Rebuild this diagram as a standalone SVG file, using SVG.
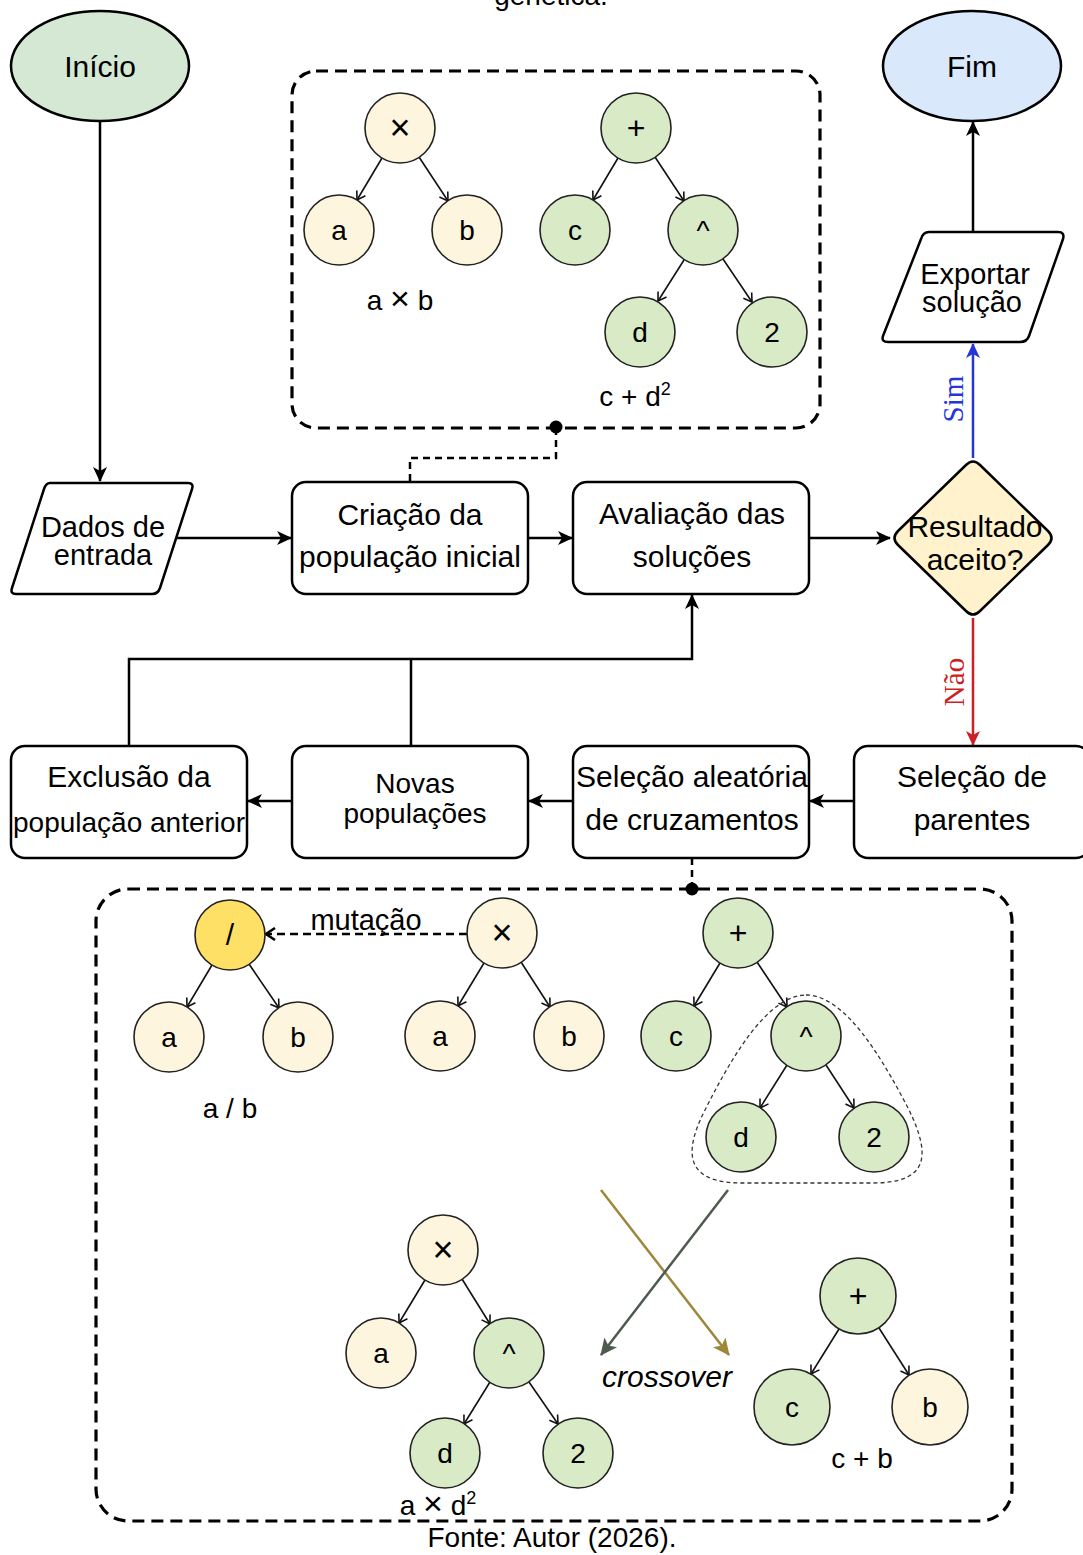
<svg xmlns="http://www.w3.org/2000/svg" width="1083" height="1555" viewBox="0 0 1083 1555">
<defs>
<style>
text{font-family:"Liberation Sans",Arial,sans-serif;fill:#000}
.t30{font-size:30px;text-anchor:middle}
.t29{font-size:29px;text-anchor:middle}
.t28{font-size:28px;text-anchor:middle}
.node{stroke:#000;stroke-width:2.5}
.box{fill:#fff;stroke:#000;stroke-width:2.5}
.cy{fill:#fdf5de;stroke:#222;stroke-width:1.6}
.cg{fill:#d9eac7;stroke:#222;stroke-width:1.6}
.cgold{fill:#ffe066;stroke:#222;stroke-width:1.6}
.lbl{font-size:28px;text-anchor:middle}
.x{font-size:36px;text-anchor:middle}
.edge{stroke:#000;stroke-width:2.5;fill:none}
.tedge{stroke:#111;stroke-width:1.6;fill:none;marker-end:url(#open)}
.dash{stroke:#000;stroke-width:3.2;fill:none;stroke-dasharray:12 7}
</style>
<marker id="blk" markerUnits="userSpaceOnUse" markerWidth="16" markerHeight="14" refX="14" refY="7" orient="auto">
<path d="M0,0 L15,7 L0,14 L4,7 Z" fill="#000"/>
</marker>
<marker id="blkBlue" markerUnits="userSpaceOnUse" markerWidth="16" markerHeight="14" refX="14" refY="7" orient="auto">
<path d="M0,0 L15,7 L0,14 L4,7 Z" fill="#2536d8"/>
</marker>
<marker id="blkRed" markerUnits="userSpaceOnUse" markerWidth="16" markerHeight="14" refX="14" refY="7" orient="auto">
<path d="M0,0 L15,7 L0,14 L4,7 Z" fill="#cc1f24"/>
</marker>
<marker id="open" markerUnits="userSpaceOnUse" markerWidth="12" markerHeight="12" refX="10" refY="6" orient="auto">
<path d="M2,1 L10,6 L2,11" fill="none" stroke="#111" stroke-width="1.6"/>
</marker>
<marker id="openThick" markerUnits="userSpaceOnUse" markerWidth="14" markerHeight="14" refX="12" refY="7" orient="auto">
<path d="M3,1 L12,7 L3,13" fill="none" stroke="#000" stroke-width="2.5"/>
</marker>
<marker id="olive" markerUnits="userSpaceOnUse" markerWidth="18" markerHeight="16" refX="16" refY="8" orient="auto">
<path d="M0,0 L17,8 L0,16 L4,8 Z" fill="#9c873a"/>
</marker>
<marker id="grey" markerUnits="userSpaceOnUse" markerWidth="18" markerHeight="16" refX="16" refY="8" orient="auto">
<path d="M0,0 L17,8 L0,16 L4,8 Z" fill="#4f5a4e"/>
</marker>
</defs>

<text x="551" y="5" class="t28">genética.</text>

<!-- containers -->
<g id="box-top"><rect x="292" y="71" width="528" height="357" rx="24" class="dash"/></g>
<g id="box-bottom"><rect x="96" y="889" width="916" height="632" rx="32" class="dash"/></g>

<!-- connectors -->
<g id="connectors">
<line x1="100" y1="121" x2="100" y2="481" class="edge" marker-end="url(#blk)"/>
<line x1="175" y1="538" x2="291" y2="538" class="edge" marker-end="url(#blk)"/>
<line x1="528" y1="538" x2="572" y2="538" class="edge" marker-end="url(#blk)"/>
<line x1="809" y1="538" x2="890" y2="538" class="edge" marker-end="url(#blk)"/>
<line x1="973" y1="458" x2="973" y2="344" stroke="#2536d8" stroke-width="2.5" marker-end="url(#blkBlue)"/>
<line x1="973" y1="618" x2="973" y2="745" stroke="#cc1f24" stroke-width="2.5" marker-end="url(#blkRed)"/>
<line x1="973" y1="232" x2="973" y2="122" class="edge" marker-end="url(#blk)"/>
<line x1="854" y1="801" x2="810" y2="801" class="edge" marker-end="url(#blk)"/>
<line x1="573" y1="801" x2="529" y2="801" class="edge" marker-end="url(#blk)"/>
<line x1="292" y1="801" x2="248" y2="801" class="edge" marker-end="url(#blk)"/>
<polyline points="129,746 129,659 692,659 692,595" class="edge" marker-end="url(#blk)"/>
<line x1="411" y1="746" x2="411" y2="659" class="edge"/>
<polyline points="556,428 556,458 410,458 410,482" fill="none" stroke="#000" stroke-width="2.5" stroke-dasharray="7 5"/>
<circle cx="556" cy="427" r="6.5" fill="#000"/>
<line x1="692" y1="858" x2="692" y2="889" stroke="#000" stroke-width="2.5" stroke-dasharray="7 5"/>
<circle cx="692" cy="889" r="6.5" fill="#000"/>
<text x="963" y="399" font-size="29" text-anchor="middle" transform="rotate(-90 963 399)" style="font-family:'Liberation Serif',serif;fill:#2536d8">Sim</text>
<text x="964" y="682" font-size="29" text-anchor="middle" transform="rotate(-90 964 682)" style="font-family:'Liberation Serif',serif;fill:#cc1f24">Não</text>
<!-- tree edges top -->
<line x1="382" y1="158" x2="357" y2="200" class="tedge"/>
<line x1="419" y1="157" x2="448" y2="201" class="tedge"/>
<line x1="618" y1="158" x2="593" y2="200" class="tedge"/>
<line x1="655" y1="157" x2="684" y2="201" class="tedge"/>
<line x1="684" y1="260" x2="658" y2="301" class="tedge"/>
<line x1="723" y1="259" x2="752" y2="302" class="tedge"/>
<!-- tree edges bottom -->
<line x1="212" y1="965" x2="187" y2="1007" class="tedge"/>
<line x1="249" y1="964" x2="279" y2="1008" class="tedge"/>
<line x1="484" y1="963" x2="458" y2="1006" class="tedge"/>
<line x1="521" y1="962" x2="550" y2="1007" class="tedge"/>
<line x1="720" y1="963" x2="694" y2="1006" class="tedge"/>
<line x1="757" y1="962" x2="787" y2="1007" class="tedge"/>
<line x1="787" y1="1065" x2="760" y2="1108" class="tedge"/>
<line x1="826" y1="1065" x2="854" y2="1108" class="tedge"/>
<line x1="425" y1="1280" x2="399" y2="1323" class="tedge"/>
<line x1="462" y1="1279" x2="490" y2="1324" class="tedge"/>
<line x1="490" y1="1382" x2="464" y2="1424" class="tedge"/>
<line x1="529" y1="1382" x2="558" y2="1424" class="tedge"/>
<line x1="839" y1="1329" x2="811" y2="1374" class="tedge"/>
<line x1="879" y1="1328" x2="909" y2="1375" class="tedge"/>
<!-- mutation -->
<line x1="467" y1="934" x2="266" y2="934" stroke="#000" stroke-width="2.5" stroke-dasharray="8 5" marker-end="url(#openThick)"/>
<text x="366" y="930" class="t29">mutação</text>
<!-- subtree outline -->
<path d="M806,995 C845,995 882,1058 908,1108 C934,1160 925,1183 872,1183 L742,1183 C692,1183 680,1160 704,1112 C730,1060 767,995 806,995 Z" fill="none" stroke="#333" stroke-width="1.3" stroke-dasharray="4 3"/>
<!-- crossover -->
<line x1="601" y1="1190" x2="729" y2="1355" stroke="#9c873a" stroke-width="2.5" marker-end="url(#olive)"/>
<line x1="728" y1="1190" x2="601" y2="1355" stroke="#4f5a4e" stroke-width="2.5" marker-end="url(#grey)"/>
<text x="667" y="1387" class="t30" style="font-style:italic">crossover</text>
</g>

<!-- main nodes -->
<g id="inicio"><ellipse cx="100" cy="66" rx="89" ry="55" fill="#d5e8d4" class="node"/><text x="100" y="77" class="t30">Início</text></g>
<g id="fim"><ellipse cx="972" cy="66" rx="89" ry="55" fill="#dae8fc" class="node"/><text x="972" y="77" class="t30">Fim</text></g>
<g id="dados"><path d="M50,483 L188,483 Q194,483 192,489 L160,588 Q158,594 152,594 L16,594 Q10,594 12,588 L44,489 Q46,483 50,483 Z" class="box"/><text x="103" y="537" class="t29">Dados de</text><text x="103" y="565" class="t29">entrada</text></g>
<g id="criacao"><rect x="292" y="482" width="236" height="112" rx="14" class="box"/><text x="410" y="525" class="t30">Criação da</text><text x="410" y="567" class="t30">população inicial</text></g>
<g id="avaliacao"><rect x="573" y="482" width="236" height="112" rx="14" class="box"/><text x="692" y="524" class="t30">Avaliação das</text><text x="692" y="567" class="t30">soluções</text></g>
<g id="resultado"><path d="M966,465 Q973,458 980,465 L1048,531 Q1055,538 1048,545 L980,611 Q973,618 966,611 L898,545 Q891,538 898,531 Z" fill="#fff2cc" class="node"/><text x="975" y="537" class="t30">Resultado</text><text x="975" y="570" class="t30">aceito?</text></g>
<g id="exportar"><path d="M929,232 L1058,232 Q1065,232 1063,239 L1029,336 Q1027,342 1020,342 L888,342 Q881,342 883,336 L921,239 Q923,232 929,232 Z" class="box"/><text x="975" y="284" class="t29">Exportar</text><text x="972" y="312" class="t29">solução</text></g>
<g id="selecao-parentes"><rect x="854" y="746" width="236" height="112" rx="14" class="box"/><text x="972" y="787" class="t30">Seleção de</text><text x="972" y="830" class="t30">parentes</text></g>
<g id="selecao-aleatoria"><rect x="573" y="746" width="236" height="112" rx="14" class="box"/><text x="692" y="787" class="t30">Seleção aleatória</text><text x="692" y="830" class="t30">de cruzamentos</text></g>
<g id="novas"><rect x="292" y="746" width="236" height="112" rx="14" class="box"/><text x="415" y="793" class="t28">Novas</text><text x="415" y="823" class="t28">populações</text></g>
<g id="exclusao"><rect x="11" y="746" width="236" height="112" rx="14" class="box"/><text x="129" y="787" class="t30">Exclusão da</text><text x="129" y="832" class="t28">população anterior</text></g>

<!-- top trees -->
<g id="t1-times"><circle cx="400" cy="128" r="35" class="cy"/><text x="400" y="140" class="x">×</text></g>
<g id="t1-a"><circle cx="339" cy="230" r="35" class="cy"/><text x="339" y="240" class="lbl">a</text></g>
<g id="t1-b"><circle cx="467" cy="230" r="35" class="cy"/><text x="467" y="240" class="lbl">b</text></g>
<text x="400" y="310" class="lbl">a <tspan font-size="34">×</tspan> b</text>
<g id="t2-plus"><circle cx="636" cy="128" r="35" class="cg"/><text x="636" y="139" class="lbl" style="font-size:32px">+</text></g>
<g id="t2-c"><circle cx="575" cy="230" r="35" class="cg"/><text x="575" y="240" class="lbl">c</text></g>
<g id="t2-pow"><circle cx="703" cy="230" r="35" class="cg"/><text x="703" y="240" class="lbl">^</text></g>
<g id="t2-d"><circle cx="640" cy="332" r="35" class="cg"/><text x="640" y="342" class="lbl">d</text></g>
<g id="t2-2"><circle cx="772" cy="332" r="35" class="cg"/><text x="772" y="342" class="lbl">2</text></g>
<text x="635" y="406" class="lbl">c + d<tspan dy="-11" font-size="18">2</tspan></text>

<!-- bottom trees -->
<g id="m-div"><circle cx="230" cy="935" r="35" class="cgold"/><text x="230" y="945" class="lbl" style="font-size:30px">/</text></g>
<g id="m-a"><circle cx="169" cy="1037" r="35" class="cy"/><text x="169" y="1047" class="lbl">a</text></g>
<g id="m-b"><circle cx="298" cy="1037" r="35" class="cy"/><text x="298" y="1047" class="lbl">b</text></g>
<text x="230" y="1118" class="lbl">a / b</text>
<g id="p1-times"><circle cx="502" cy="933" r="35" class="cy"/><text x="502" y="945" class="x">×</text></g>
<g id="p1-a"><circle cx="440" cy="1036" r="35" class="cy"/><text x="440" y="1046" class="lbl">a</text></g>
<g id="p1-b"><circle cx="569" cy="1036" r="35" class="cy"/><text x="569" y="1046" class="lbl">b</text></g>
<g id="p2-plus"><circle cx="738" cy="933" r="35" class="cg"/><text x="738" y="944" class="lbl" style="font-size:32px">+</text></g>
<g id="p2-c"><circle cx="676" cy="1036" r="35" class="cg"/><text x="676" y="1046" class="lbl">c</text></g>
<g id="p2-pow"><circle cx="806" cy="1036" r="35" class="cg"/><text x="806" y="1046" class="lbl">^</text></g>
<g id="p2-d"><circle cx="741" cy="1137" r="35" class="cg"/><text x="741" y="1147" class="lbl">d</text></g>
<g id="p2-2"><circle cx="874" cy="1137" r="35" class="cg"/><text x="874" y="1147" class="lbl">2</text></g>
<g id="c1-times"><circle cx="443" cy="1250" r="35" class="cy"/><text x="443" y="1262" class="x">×</text></g>
<g id="c1-a"><circle cx="381" cy="1353" r="35" class="cy"/><text x="381" y="1363" class="lbl">a</text></g>
<g id="c1-pow"><circle cx="509" cy="1353" r="35" class="cg"/><text x="509" y="1363" class="lbl">^</text></g>
<g id="c1-d"><circle cx="445" cy="1453" r="35" class="cg"/><text x="445" y="1463" class="lbl">d</text></g>
<g id="c1-2"><circle cx="578" cy="1453" r="35" class="cg"/><text x="578" y="1463" class="lbl">2</text></g>
<text x="438" y="1515" class="lbl">a <tspan font-size="34">×</tspan> d<tspan dy="-11" font-size="18">2</tspan></text>
<g id="c2-plus"><circle cx="858" cy="1296" r="38" class="cg"/><text x="858" y="1307" class="lbl" style="font-size:32px">+</text></g>
<g id="c2-c"><circle cx="792" cy="1407" r="38" class="cg"/><text x="792" y="1417" class="lbl">c</text></g>
<g id="c2-b"><circle cx="930" cy="1407" r="38" class="cy"/><text x="930" y="1417" class="lbl">b</text></g>
<text x="862" y="1468" class="lbl">c + b</text>

<text x="552" y="1547" class="t28">Fonte: Autor (2026).</text>
</svg>
